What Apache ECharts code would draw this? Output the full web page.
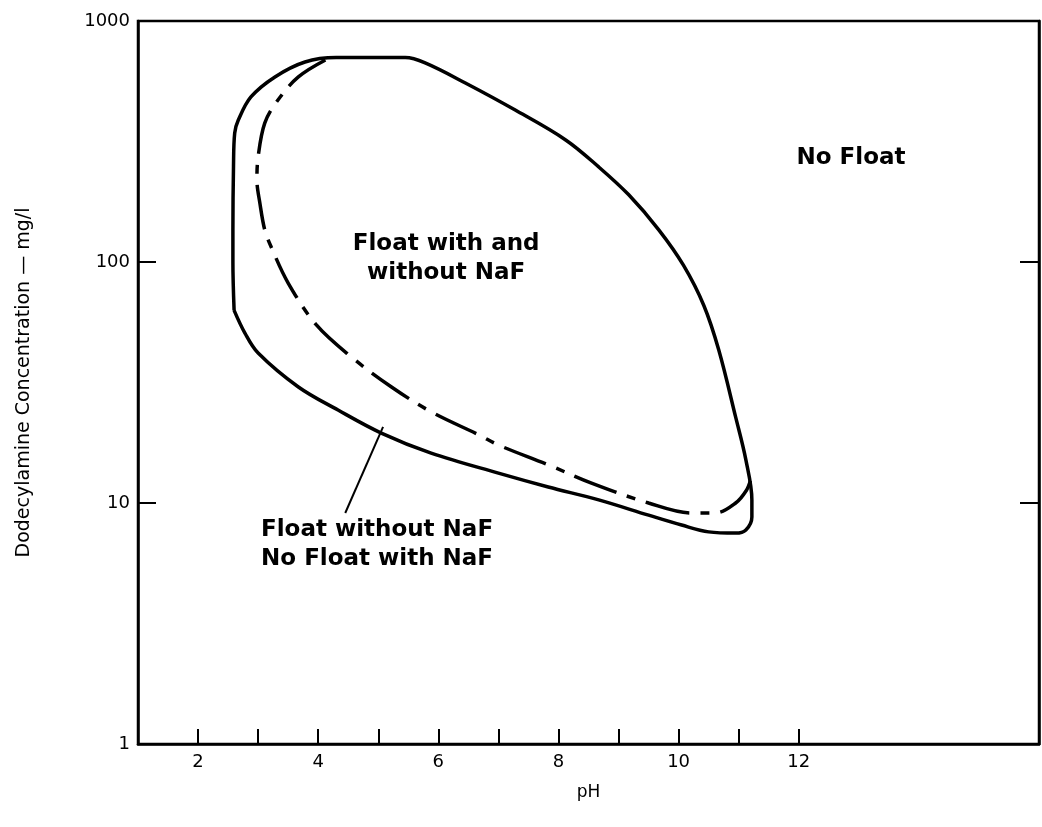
<!DOCTYPE html>
<html>
<head>
<meta charset="utf-8">
<script src="https://cdn.jsdelivr.net/npm/echarts@6/dist/echarts.min.js"></script>
<style>
  html, body { margin: 0; padding: 0; background: #fff; }
  #chart { width: 1042px; height: 827px; }
</style>
</head>
<body>
<div id="chart"></div>
<script>
  // outer solid boundary (closed loop), pH vs mg/l
  const phOuter = [2.6, 2.58, 2.58, 2.59, 2.61, 2.67, 2.88, 3.28, 3.78, 4.3, 5.45, 5.78, 6.45, 7.28, 8.12, 8.67, 9.17, 9.67, 10.08, 10.42, 10.67, 10.95, 11.12, 11.22, 11.22, 11.12, 10.95, 10.5, 10.05, 9.5, 8.67, 7.83, 7.0, 5.88, 5.05, 4.33, 3.67, 3.0, 2.78, 2.6]
  const concOuter = [63, 100, 136, 250, 343, 388, 484, 586, 676, 705, 705, 670, 553, 427, 321, 248, 190, 136, 97, 66, 43, 22.7, 15.1, 10.3, 8.75, 7.73, 7.5, 7.59, 8.1, 8.9, 10.3, 11.65, 13.3, 16.1, 19.5, 24.3, 30.3, 41.9, 50.7, 63]

  // dash-dot boundary (with NaF)
  const phDash = [4.12, 3.67, 3.33, 3.11, 3.0, 2.98, 3.03, 3.11, 3.22, 3.5, 3.97, 4.55, 5.22, 5.88, 6.67, 7.0, 7.83, 8.55, 9.5, 10.22, 10.62, 10.95, 11.13, 11.2]
  const concDash = [689, 586, 470, 377, 273, 219, 175, 136, 115, 81.8, 54.8, 40.4, 30.3, 23.9, 19.2, 17.4, 14.4, 12.1, 10, 9.09, 9.1, 10, 11.3, 12.5]

  // leader line from the label to the solid curve
  const phPointer = [5.08, 4.45]
  const concPointer = [20.7, 9.09]

  const xTicks = [2, 3, 4, 5, 6, 7, 8, 9, 10, 11, 12]
  const xLabels = [2, 4, 6, 8, 10, 12]

  function pairs (xs, ys) {
    return xs.map(function (x, i) { return [x, ys[i]] })
  }

  const noteStyle = {
    show: true,
    color: '#000',
    opacity: 1,
    textBorderWidth: 0,
    fontFamily: 'DejaVu Sans',
    fontWeight: 'bold',
    fontSize: 23,
    lineHeight: 29,
    align: 'center',
    verticalAlign: 'middle'
  }

  const chart = echarts.init(document.getElementById('chart'))
  chart.setOption({
    animation: false,
    backgroundColor: '#fff',
    grid: {
      left: 138,
      right: 3,
      top: 21,
      bottom: 83,
      show: true,
      borderColor: '#000',
      borderWidth: 2.5,
      backgroundColor: 'transparent'
    },
    xAxis: {
      type: 'value',
      min: 1,
      max: 16,
      name: 'pH',
      nameLocation: 'middle',
      nameGap: 40,
      nameTextStyle: { color: '#000', fontFamily: 'DejaVu Sans', fontSize: 17 },
      axisLine: { show: true, lineStyle: { color: '#000', width: 2.5 } },
      axisTick: { inside: true, length: 15, customValues: xTicks, lineStyle: { color: '#000', width: 2 } },
      axisLabel: { customValues: xLabels, color: '#000', fontFamily: 'DejaVu Sans', fontSize: 18, margin: 9 },
      splitLine: { show: false }
    },
    yAxis: [
      {
        type: 'log',
        logBase: 10,
        min: 1,
        max: 1000,
        name: 'Dodecylamine Concentration — mg/l',
        nameLocation: 'middle',
        nameGap: 104,
        nameTextStyle: { color: '#000', fontFamily: 'DejaVu Sans', fontSize: 19 },
        axisLine: { show: true, lineStyle: { color: '#000', width: 2.5 } },
        axisTick: { inside: true, length: 18, lineStyle: { color: '#000', width: 2 } },
        axisLabel: {
          color: '#000',
          fontFamily: 'DejaVu Sans',
          fontSize: 18,
          margin: 8,
          formatter: function (v) { return String(v) }
        },
        splitLine: { show: false },
        minorTick: { show: false }
      },
      {
        type: 'log',
        logBase: 10,
        min: 1,
        max: 1000,
        position: 'right',
        axisLine: { show: true, lineStyle: { color: '#000', width: 2.5 } },
        axisTick: { inside: true, length: 19, lineStyle: { color: '#000', width: 2 } },
        axisLabel: { show: false },
        splitLine: { show: false }
      }
    ],
    series: [
      {
        name: 'Float without NaF',
        type: 'line',
        data: pairs(phOuter, concOuter),
        smooth: 0.35,
        showSymbol: false,
        lineStyle: { color: '#000', width: 3.5 }
      },
      {
        name: 'Float with NaF',
        type: 'line',
        data: pairs(phDash, concDash),
        smooth: 0.35,
        showSymbol: false,
        lineStyle: { color: '#000', width: 3.5, type: [45, 11, 9, 11] }
      },
      {
        name: 'pointer',
        type: 'line',
        data: pairs(phPointer, concPointer),
        showSymbol: false,
        lineStyle: { color: '#000', width: 2 }
      },
      {
        name: 'notes',
        type: 'scatter',
        symbolSize: 0,
        itemStyle: { opacity: 1 },
        label: Object.assign({ formatter: function (p) { return p.data.text } }, noteStyle),
        data: [
          { value: [12.87, 270], text: 'No Float' },
          { value: [6.13, 103], text: 'Float with and\nwithout NaF' },
          { value: [4.98, 6.7], text: 'Float without NaF\nNo Float with NaF' }
        ]
      }
    ]
  })
</script>
</body>
</html>
